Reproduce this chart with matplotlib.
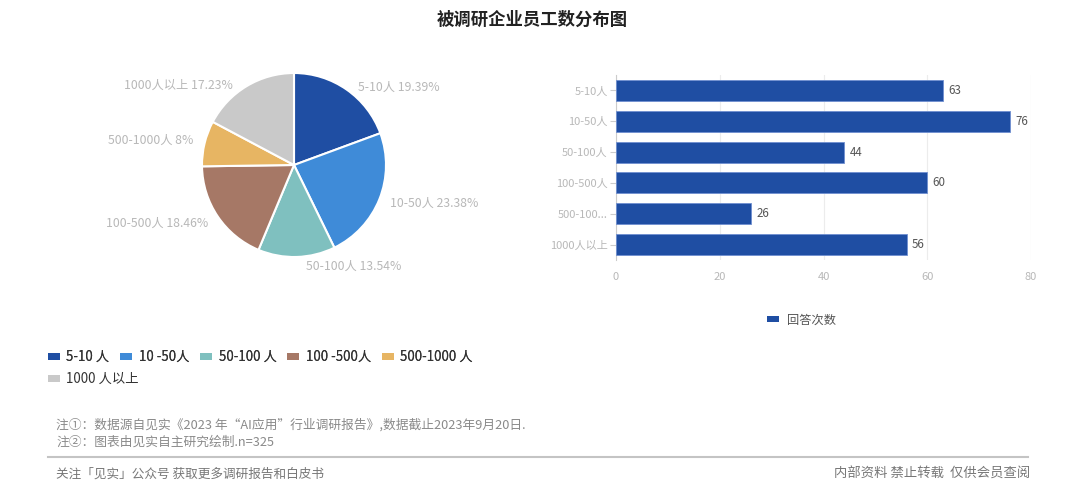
import matplotlib
matplotlib.use("Agg")
import matplotlib.pyplot as plt
from matplotlib.patches import Patch

plt.rcParams['font.family'] = ['Noto Sans CJK SC', 'DejaVu Sans']

# ---- data ----
pie_categories = ["5-10人", "10-50人", "50-100人", "100-500人", "500-1000人", "1000人以上"]
pie_pct_labels = ["19.39%", "23.38%", "13.54%", "18.46%", "8%", "17.23%"]
counts = [63, 76, 44, 60, 26, 56]
bar_tick_labels = ["5-10人", "10-50人", "50-100人", "100-500人", "500-100...", "1000人以上"]
legend_labels = ["5-10 人", "10 -50人", "50-100 人", "100 -500人", "500-1000 人", "1000 人以上"]
colors = ["#1f4ea3", "#3f8bd8", "#7fc0bf", "#a67866", "#e7b563", "#c9c9c9"]
bar_series_name = "回答次数"
x_ticks = [0, 20, 40, 60, 80]

W, H = 1080, 488
fig = plt.figure(figsize=(W / 100, H / 100), dpi=100)
fig.patch.set_facecolor("white")

def fx(px):
    return px / W

def fy(py):
    return 1 - py / H

# ---- title ----
fig.text(fx(532), fy(20), "被调研企业员工数分布图", ha="center", va="center",
         fontsize=12.5, fontweight="bold", color="#222222")

# ---- pie ----
cx, cy, r = 294, 165, 92
ax_pie = fig.add_axes([fx(cx - r), fy(cy + r), fx(2 * r), (2 * r) / H])
pie_labels = [f"{c} {p}" for c, p in zip(pie_categories, pie_pct_labels)]
wedges, texts = ax_pie.pie(counts, colors=colors, startangle=90, counterclock=False,
                           labels=pie_labels, labeldistance=1.13,
                           wedgeprops=dict(edgecolor="white", linewidth=1.5),
                           textprops=dict(fontsize=8.8, color="#b8b8b8"))
# place the last label to the upper left of the pie like the reference
texts[-1].set_position((-0.66, 0.87))
x, y = texts[0].get_position()
texts[0].set_position((x + 0.05, y - 0.08))
x, y = texts[2].get_position()
texts[2].set_position((x + 0.1, y + 0.03))
ax_pie.set_xlim(-1, 1)
ax_pie.set_ylim(-1, 1)
ax_pie.set_aspect("equal")
ax_pie.axis("off")

# ---- bar chart ----
ax_bar = fig.add_axes([fx(616), fy(260), fx(1031) - fx(616), (260 - 75) / H])
ypos = list(range(len(counts)))
bars = ax_bar.barh(ypos, counts, height=0.68, color="#1f4ea3",
                   edgecolor="#6f8fd0", linewidth=0.6, zorder=3)
ax_bar.set_ylim(len(counts) - 0.5, -0.5)
ax_bar.set_xlim(0, 80)
ax_bar.set_xticks(x_ticks)
ax_bar.set_yticks(ypos)
ax_bar.set_yticklabels(bar_tick_labels)
ax_bar.tick_params(axis="x", length=0, labelsize=8, labelcolor="#b8b8b8", pad=9)
ax_bar.tick_params(axis="y", length=4, color="#cccccc", labelsize=8, labelcolor="#b8b8b8", pad=2)
ax_bar.grid(axis="x", color="#ececec", linewidth=0.8, zorder=0)
for s in ["top", "right", "bottom"]:
    ax_bar.spines[s].set_visible(False)
ax_bar.spines["left"].set_color("#cccccc")
for b, v in zip(bars, counts):
    ax_bar.text(b.get_width() + 1.0, b.get_y() + b.get_height() / 2, str(v),
                va="center", ha="left", fontsize=8.3, color="#555555")

# bar legend
fig.legend(handles=[Patch(facecolor="#1f4ea3", edgecolor="none")], labels=[bar_series_name],
           loc="center left", bbox_to_anchor=(fx(761), fy(320)), frameon=False,
           fontsize=8.8, handlelength=1.0, handleheight=0.45, handletextpad=0.6,
           labelcolor="#555555", borderpad=0)

# ---- pie legend (two rows) ----
handles = [Patch(facecolor=c, edgecolor="none") for c in colors]
leg1 = fig.legend(handles=handles[:5], labels=legend_labels[:5], ncol=5,
                  loc="center left", bbox_to_anchor=(fx(41), fy(357)), frameon=False,
                  fontsize=9.6, handlelength=0.9, handleheight=0.4, handletextpad=0.5,
                  columnspacing=0.8, labelcolor="#333333", borderpad=0)
fig.add_artist(leg1)
fig.legend(handles=handles[5:], labels=legend_labels[5:], ncol=1,
           loc="center left", bbox_to_anchor=(fx(41), fy(379)), frameon=False,
           fontsize=9.6, handlelength=0.9, handleheight=0.4, handletextpad=0.5,
           labelcolor="#333333", borderpad=0)

# ---- notes ----
fig.text(fx(56), fy(425), "注①：数据源自见实《2023 年“AI应用”行业调研报告》,数据截止2023年9月20日.",
         ha="left", va="center", fontsize=9.2, color="#8a8a8a")
fig.text(fx(56), fy(442), "注②：图表由见实自主研究绘制.n=325",
         ha="left", va="center", fontsize=9.2, color="#8a8a8a")
fig.add_artist(plt.Line2D([fx(48), fx(1028)], [fy(457), fy(457)], color="#c4c4c4", linewidth=1.5))
fig.text(fx(56), fy(474), "关注「见实」公众号 获取更多调研报告和白皮书",
         ha="left", va="center", fontsize=9.1, color="#777777")
fig.text(fx(1030), fy(474), "内部资料 禁止转载  仅供会员查阅",
         ha="right", va="center", fontsize=9.6, color="#777777")

fig.savefig("out.png", dpi=100, facecolor="white")
